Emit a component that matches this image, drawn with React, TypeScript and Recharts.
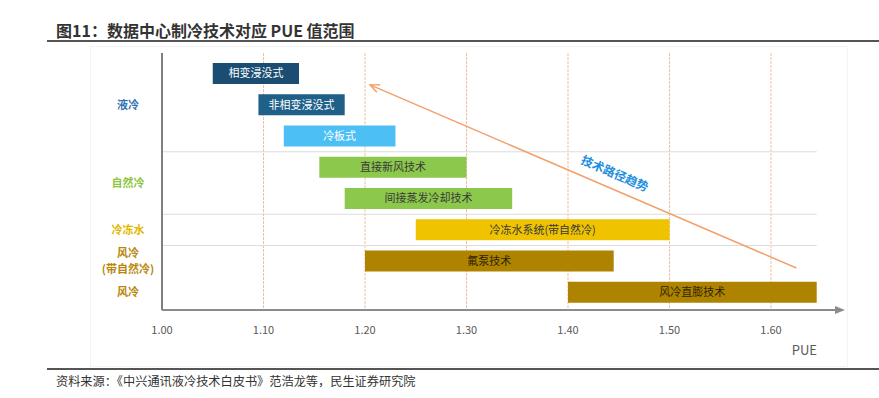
import {
  Bar,
  BarChart,
  CartesianGrid,
  Cell,
  LabelList,
  ReferenceLine,
  XAxis,
  YAxis,
} from "recharts";

const techs = [
  "相变浸没式",
  "非相变浸没式",
  "冷板式",
  "直接新风技术",
  "间接蒸发冷却技术",
  "冷冻水系统(带自然冷)",
  "氟泵技术",
  "风冷直膨技术",
];
const pueLow = [1.05, 1.095, 1.12, 1.155, 1.18, 1.25, 1.2, 1.4];
const pueHigh = [1.135, 1.18, 1.23, 1.3, 1.345, 1.5, 1.445, 1.645];
const techGroup = [0, 0, 0, 1, 1, 2, 3, 4];
const groupLabels = [["液冷"], ["自然冷"], ["冷冻水"], ["风冷", "(带自然冷)"], ["风冷"]];
const pueTicks = [1.0, 1.1, 1.2, 1.3, 1.4, 1.5, 1.6];

// trend arrow, in (PUE, row index) units
const trendFrom = { pue: 1.625, row: 6.22 };
const trendTo = { pue: 1.205, row: 0.36 };

const barColors = ["#1b4d72", "#1f6089", "#4cc0f5", "#8cc84b", "#8cc84b", "#efc300", "#ad8300", "#ad8300"];
const textColors = ["#ffffff", "#ffffff", "#ffffff", "#3a3a3a", "#3a3a3a", "#3a3a3a", "#2e2300", "#2e2300"];
const groupColors = ["#2e74b5", "#8cc63f", "#e3b600", "#b8870b", "#b8870b"];

const FONT = '"Noto Sans CJK SC", "Noto Sans", sans-serif';

const CHART_H = 360;
const M_TOP = 53;
const X_AXIS_H = 50;
const PAD_TOP = 5;
const PAD_BOTTOM = 2;
// the row-index axis runs from the centre of the first band to the centre of the last
const halfBand = (CHART_H - M_TOP - X_AXIS_H - PAD_TOP - PAD_BOTTOM) / techs.length / 2;

const data = techs.map((name, i) => ({ name, row: i, range: [pueLow[i], pueHigh[i]] }));

const groupSizes = groupLabels.map((_, g) => techGroup.filter((t) => t === g).length);
const groupStarts = groupSizes.map((_, g) => groupSizes.slice(0, g).reduce((a, b) => a + b, 0));
const groupCentres = groupStarts.map((s, g) => s + (groupSizes[g] - 1) / 2);
// no separator between the two 风冷 groups in the source
const groupBreaks = groupStarts.slice(1, 4).map((s) => s - 0.5);
const maxPue = Math.max(...pueHigh);

const GroupTick = (props: any) => {
  const { x, y, payload } = props;
  const g = groupCentres.indexOf(payload.value);
  const lines = groupLabels[g] || [];
  const cx = x - 26;
  return (
    <text x={cx} y={y} textAnchor="middle" fill={groupColors[g]} fontSize={11} fontWeight={600} fontFamily={FONT}>
      {lines.map((l, k) => (
        <tspan key={k} x={cx} dy={k === 0 ? `${0.35 - (lines.length - 1) * 0.7}em` : "1.4em"}>
          {l}
        </tspan>
      ))}
    </text>
  );
};

const BarText = (props: any) => {
  const { x, y, width, height, value } = props;
  const i = techs.indexOf(value);
  return (
    <text
      x={x + width / 2}
      y={y + height / 2}
      dy="0.36em"
      textAnchor="middle"
      fill={textColors[i]}
      fontSize={11}
      fontFamily={FONT}
    >
      {value}
    </text>
  );
};

const TrendArrow = (p: any) => {
  const { x1, y1, x2, y2 } = p;
  if (x1 == null) return null;
  const dx = x2 - x1;
  const dy = y2 - y1;
  const len = Math.hypot(dx, dy);
  const ux = dx / len;
  const uy = dy / len;
  const head = 10;
  const a = 0.42;
  const wing = (s: number) => {
    const bx = -ux;
    const by = -uy;
    return [
      x2 + head * (bx * Math.cos(s * a) - by * Math.sin(s * a)),
      y2 + head * (bx * Math.sin(s * a) + by * Math.cos(s * a)),
    ];
  };
  const [w1x, w1y] = wing(1);
  const [w2x, w2y] = wing(-1);
  const lx = x1 + 0.44 * dx - uy * 15;
  const ly = y1 + 0.44 * dy + ux * 15;
  const ang = (Math.atan2(-dy, -dx) * 180) / Math.PI;
  return (
    <g>
      <line x1={x1} y1={y1} x2={x2} y2={y2} stroke="#f3a06a" strokeWidth={1.5} />
      <polyline points={`${w1x},${w1y} ${x2},${y2} ${w2x},${w2y}`} fill="none" stroke="#f3a06a" strokeWidth={1.5} />
      <text
        x={lx}
        y={ly}
        dy="0.35em"
        textAnchor="middle"
        transform={`rotate(${ang} ${lx} ${ly})`}
        fill="#1d8fe0"
        fontSize={12}
        fontWeight={700}
        fontFamily={FONT}
      >
        技术路径趋势
      </text>
    </g>
  );
};

const App = () => {
  return (
    <div
      style={{
        position: "absolute",
        left: 0,
        top: 0,
        width: 879,
        height: 398,
        background: "#fff",
        fontFamily: FONT,
        color: "#333",
      }}
    >
      <div style={{ position: "absolute", left: 56, top: 19, fontSize: 16, fontWeight: 700, color: "#333", whiteSpace: "nowrap", lineHeight: "22px" }}>
        图11：数据中心制冷技术对应 PUE 值范围
      </div>
      <div style={{ position: "absolute", left: 47, top: 40, width: 832, height: 2, background: "#555" }} />
      <div style={{ position: "absolute", left: 90, top: 46, width: 756, height: 319, border: "1px solid #f3f3f3" }} />
      <div style={{ position: "absolute", left: 0, top: 0 }}>
        <BarChart
          width={879}
          height={CHART_H}
          data={data}
          layout="vertical"
          margin={{ top: M_TOP, right: 42, bottom: 0, left: 90 }}
        >
          <defs>
            <marker id="axArrow" markerWidth="10" markerHeight="10" refX="2" refY="5" orient="auto" markerUnits="userSpaceOnUse">
              <path d="M0,1 L10,5 L0,9 Z" fill="#8c8c8c" />
            </marker>
          </defs>
          <CartesianGrid
            horizontal={false}
            verticalValues={pueTicks.slice(1)}
            stroke="#f5bf9a"
            strokeDasharray="3 1"
          />
          <XAxis
            type="number"
            domain={[1, 1.665]}
            ticks={pueTicks}
            tickFormatter={(v: number) => v.toFixed(2)}
            tickLine={false}
            tickMargin={10}
            height={X_AXIS_H}
            axisLine={{ stroke: "#8c8c8c", strokeWidth: 2, markerEnd: "url(#axArrow)" }}
            tick={{ fontSize: 11, fill: "#595959", fontFamily: FONT }}
            label={{
              content: ({ viewBox }: any) => (
                <text
                  x={viewBox.x + viewBox.width - 20}
                  y={viewBox.y + viewBox.height - 5}
                  textAnchor="end"
                  fill="#595959"
                  fontSize={13}
                  fontFamily={FONT}
                >
                  PUE
                </text>
              ),
            }}
          />
          <YAxis yAxisId="row" type="category" dataKey="name" hide padding={{ top: PAD_TOP, bottom: PAD_BOTTOM }} />
          <YAxis
            yAxisId="group"
            type="number"
            dataKey="row"
            domain={[0, techs.length - 1]}
            ticks={groupCentres}
            interval={0}
            tick={<GroupTick />}
            tickLine={false}
            axisLine={{ stroke: "#7f7f7f", strokeWidth: 2 }}
            width={72}
            padding={{ top: PAD_TOP + halfBand, bottom: PAD_BOTTOM + halfBand }}
          />
          {groupBreaks.map((b) => (
            <ReferenceLine
              key={b}
              yAxisId="group"
              segment={[
                { x: 1, y: b },
                { x: maxPue, y: b },
              ]}
              stroke="#dcdcdc"
              strokeWidth={1.2}
            />
          ))}
          <Bar yAxisId="row" dataKey="range" barSize={21} isAnimationActive={false}>
            {data.map((d, i) => (
              <Cell key={d.name} fill={barColors[i]} />
            ))}
            <LabelList dataKey="name" content={<BarText />} />
          </Bar>
          <ReferenceLine
            yAxisId="group"
            segment={[
              { x: trendFrom.pue, y: trendFrom.row },
              { x: trendTo.pue, y: trendTo.row },
            ]}
            shape={(p: any) => <TrendArrow {...p} />}
          />
        </BarChart>
      </div>
      <div style={{ position: "absolute", left: 47, top: 368, width: 832, height: 2, background: "#555" }} />
      <div style={{ position: "absolute", left: 56, top: 373, fontSize: 12.2, color: "#333", whiteSpace: "nowrap", lineHeight: "17px" }}>
        资料来源：《中兴通讯液冷技术白皮书》范浩龙等，民生证券研究院
      </div>
    </div>
  );
};

export default App;
